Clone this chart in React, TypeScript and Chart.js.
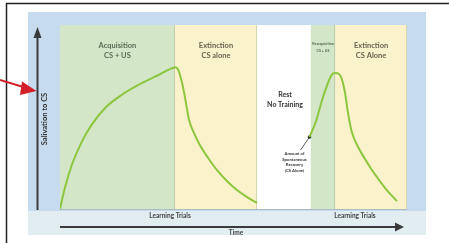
import React, { useEffect, useRef } from "react";
import { Chart, registerables } from "chart.js";
Chart.register(...registerables);

// Phases along the time axis (0-100)
const phaseStarts = [0, 33.1, 56.8, 72.3, 79.3];
const phaseEnds = [33.1, 56.8, 72.3, 79.3, 100];
const phaseKinds = ["acq", "ext", "rest", "acq", "ext"];
const phaseTitles = ["Acquisition", "Extinction", "Rest", "Reacquisition", "Extinction"];
const phaseSubtitles = ["CS + US", "CS alone", "No Training", "CS + US", "CS Alone"];

// First training/extinction curve
const firstX = [0, 1.4, 3.4, 6.3, 9.1, 13.0, 17.8, 22.6, 27.4, 32.7, 33.3, 34.1, 35.1, 36.0, 37.2, 38.9, 40.3, 42.7, 45.2, 48.1, 51.0, 53.9, 56.8];
const firstY = [0, 11.4, 23.9, 36.6, 45.7, 54.9, 62, 67.4, 71.9, 76.8, 77, 75.5, 69.2, 60.9, 48.4, 40.2, 34.8, 27.7, 21.2, 15.2, 10.3, 6.5, 3.3];

// Spontaneous recovery, reacquisition and second extinction
const secondX = [71.9, 73.8, 75.2, 76.7, 78.1, 79.3, 80.4, 81.3, 82.1, 83.0, 84.1, 85.9, 87.9, 89.9, 93.7, 97.1];
const secondY = [39.1, 47.8, 57.1, 65.8, 72.3, 73.9, 73.4, 70.1, 63.6, 52.2, 41.8, 33.7, 27.2, 21.2, 11.4, 4.3];

const recoveryX = [71.9];
const recoveryY = [39.1];
const recoveryNote = ["Amount of", "Spontaneous", "Recovery", "(CS Alone)"];

const trialLabelX = [31.7, 85];
const trialLabel = "Learning Trials";
const yAxisTitle = "Salivation to CS";
const xAxisTitle = "Time";

const FONT = "Lato, 'Open Sans', sans-serif";

function txt(ctx: CanvasRenderingContext2D, s: string, x: number, y: number, size: number, color = "#4a4a4a", weight = "bold") {
  ctx.font = `${weight} ${size}px ${FONT}`;
  ctx.fillStyle = color;
  ctx.textAlign = "center";
  ctx.textBaseline = "middle";
  ctx.fillText(s, x, y);
}

const bgPlugin = {
  id: "bgPlugin",
  beforeDraw(chart: any) {
    const { ctx, chartArea: ca, scales } = chart;
    const xs = scales.x;
    ctx.save();
    ctx.fillStyle = "#ffffff";
    ctx.fillRect(0, 0, chart.width, chart.height);
    // outer frame
    ctx.strokeStyle = "#222";
    ctx.lineWidth = 1.5;
    ctx.beginPath();
    ctx.moveTo(6.5, 243);
    ctx.lineTo(6.5, 3.5);
    ctx.lineTo(449, 3.5);
    ctx.stroke();
    // panel
    ctx.fillStyle = "#c6dcee";
    ctx.fillRect(28, 12, 398, 200);
    ctx.fillStyle = "#e2edf2";
    ctx.fillRect(28, 211, 398, 24);
    // bands
    const colors: Record<string, string> = { acq: "#d3e7c8", ext: "#faf2cb", rest: "#ffffff" };
    phaseStarts.forEach((s, i) => {
      const x0 = xs.getPixelForValue(s);
      const x1 = xs.getPixelForValue(phaseEnds[i]);
      ctx.fillStyle = colors[phaseKinds[i]];
      ctx.fillRect(x0, ca.top, x1 - x0, ca.bottom - ca.top);
    });
    // band edges
    ctx.strokeStyle = "rgba(150,160,120,0.35)";
    ctx.lineWidth = 1;
    phaseEnds.forEach((e, i) => {
      if (phaseKinds[i] === "rest") return;
      const xe = Math.round(xs.getPixelForValue(e)) - 0.5;
      ctx.beginPath();
      ctx.moveTo(xe, ca.top);
      ctx.lineTo(xe, ca.bottom);
      ctx.stroke();
    });
    ctx.strokeStyle = "rgba(120,130,110,0.35)";
    ctx.beginPath();
    ctx.moveTo(ca.left, ca.bottom + 0.5);
    ctx.lineTo(ca.right, ca.bottom + 0.5);
    ctx.stroke();
    // phase labels
    phaseTitles.forEach((t, i) => {
      const cx = (xs.getPixelForValue(phaseStarts[i]) + xs.getPixelForValue(phaseEnds[i])) / 2;
      if (phaseKinds[i] === "rest") {
        txt(ctx, t, cx + 1, ca.top + 70, 7, "#333");
        txt(ctx, phaseSubtitles[i], cx + 1, ca.top + 80, 7, "#333");
      } else if (t === "Reacquisition") {
        txt(ctx, t, cx, ca.top + 19, 3.6, "#5a6650");
        txt(ctx, phaseSubtitles[i], cx, ca.top + 26, 3.6, "#5a6650");
      } else {
        const c = phaseKinds[i] === "acq" ? "#5d6a55" : "#6a6350";
        txt(ctx, t, cx, ca.top + 20.5, 7.5, c);
        txt(ctx, phaseSubtitles[i], cx, ca.top + 30.5, 7.5, c);
      }
    });
    ctx.restore();
  },
  afterDraw(chart: any) {
    const { ctx, chartArea: ca, scales } = chart;
    const xs = scales.x;
    const ys = scales.y;
    ctx.save();
    // y axis arrow
    ctx.strokeStyle = "#3a3a3a";
    ctx.fillStyle = "#3a3a3a";
    ctx.lineWidth = 2;
    ctx.beginPath();
    ctx.moveTo(37.5, 210);
    ctx.lineTo(37.5, 36);
    ctx.stroke();
    ctx.beginPath();
    ctx.moveTo(37.5, 27);
    ctx.lineTo(33.5, 38);
    ctx.lineTo(41.5, 38);
    ctx.closePath();
    ctx.fill();
    // time arrow
    ctx.beginPath();
    ctx.moveTo(ca.left, 227);
    ctx.lineTo(396, 227);
    ctx.stroke();
    ctx.beginPath();
    ctx.moveTo(404, 227);
    ctx.lineTo(395, 222.5);
    ctx.lineTo(395, 231.5);
    ctx.closePath();
    ctx.fill();
    // axis titles
    ctx.save();
    ctx.translate(44.5, 119);
    ctx.rotate(-Math.PI / 2);
    txt(ctx, yAxisTitle, 0, 0, 7.5, "#333");
    ctx.restore();
    trialLabelX.forEach((v) => txt(ctx, trialLabel, xs.getPixelForValue(v), 216, 6.5, "#444"));
    txt(ctx, xAxisTitle, 236, 233, 6.5, "#444");
    // red arrow
    ctx.strokeStyle = "#d3202a";
    ctx.fillStyle = "#d3202a";
    ctx.lineWidth = 2;
    ctx.beginPath();
    ctx.moveTo(0, 80);
    ctx.lineTo(25, 87.5);
    ctx.stroke();
    ctx.beginPath();
    ctx.moveTo(36.5, 91);
    ctx.lineTo(22, 81.5);
    ctx.lineTo(20, 95);
    ctx.closePath();
    ctx.fill();
    // recovery annotation
    const px = xs.getPixelForValue(recoveryX[0]);
    const py = ys.getPixelForValue(recoveryY[0]);
    ctx.strokeStyle = "#333";
    ctx.lineWidth = 0.8;
    ctx.beginPath();
    ctx.moveTo(px, py);
    ctx.lineTo(px - 9, py + 13);
    ctx.stroke();
    recoveryNote.forEach((s, i) => txt(ctx, s, px - 15, py + 17 + i * 5.4, 4.2, "#333"));
    ctx.restore();
  },
};

export default function App() {
  const ref = useRef<HTMLCanvasElement | null>(null);
  useEffect(() => {
    document.body.style.margin = "0";
    if (!ref.current) return;
    const chart = new Chart(ref.current, {
      type: "line",
      data: {
        datasets: [
          {
            data: firstX.map((x, i) => ({ x, y: firstY[i] })),
            borderColor: "#8cc63e",
            borderWidth: 2,
            pointRadius: 0,
            cubicInterpolationMode: "monotone",
            fill: false,
          },
          {
            data: secondX.map((x, i) => ({ x, y: secondY[i] })),
            borderColor: "#8cc63e",
            borderWidth: 2,
            pointRadius: 0,
            cubicInterpolationMode: "monotone",
            fill: false,
          },
          {
            data: recoveryX.map((x, i) => ({ x, y: recoveryY[i] })),
            showLine: false,
            pointRadius: 1.8,
            pointBackgroundColor: "#222",
            pointBorderWidth: 0,
          },
        ],
      },
      options: {
        animation: false,
        responsive: false,
        maintainAspectRatio: false,
        layout: { padding: { left: 60, right: 42, top: 25, bottom: 34 } },
        scales: {
          x: { type: "linear", min: 0, max: 100, display: false },
          y: { min: 0, max: 100, display: false },
        },
        plugins: { legend: { display: false }, tooltip: { enabled: false } },
      },
      plugins: [bgPlugin],
    } as any);
    return () => chart.destroy();
  }, []);
  return <canvas ref={ref} width={449} height={243} style={{ display: "block" }} />;
}
